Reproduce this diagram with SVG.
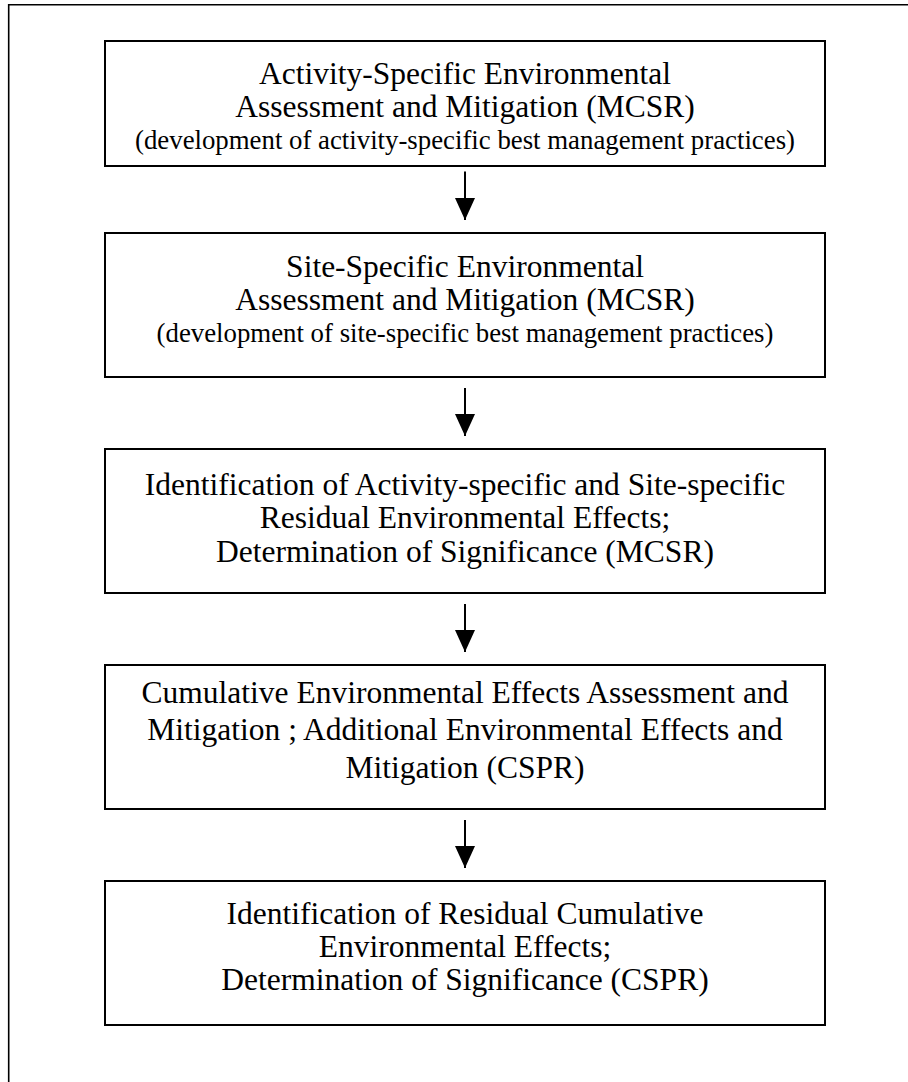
<svg xmlns="http://www.w3.org/2000/svg" width="908" height="1082" viewBox="0 0 908 1082">
<style>
.box{fill:#fff;stroke:#000;stroke-width:2}
.frame{fill:none;stroke:#000;stroke-width:1.6}
text{font-family:"Liberation Serif","Times New Roman",serif;fill:#000;text-anchor:middle}
.big{font-size:31.5px}
.small{font-size:26.8px}
.conn line{stroke:#000;stroke-width:2}
</style>
<defs>
<marker id="ah" markerUnits="userSpaceOnUse" markerWidth="22" markerHeight="20" refX="22" refY="10" orient="auto" viewBox="0 0 22 20">
<path d="M0 0 L22 10 L0 20 Z" fill="#000"/>
</marker>
</defs>
<rect x="0" y="0" width="908" height="1082" fill="#fff"/>
<path class="frame" d="M8.7 1082 V4.7 H908"/>
<g id="n1">
<rect class="box" x="105" y="41" width="720" height="125"/>
<text class="big" x="465" y="84">Activity-Specific Environmental</text>
<text class="big" x="465" y="117">Assessment and Mitigation (MCSR)</text>
<text class="small" x="465" y="149">(development of activity-specific best management practices)</text>
</g>
<g id="n2">
<rect class="box" x="105" y="233" width="720" height="144"/>
<text class="big" x="465" y="277">Site-Specific Environmental</text>
<text class="big" x="465" y="310">Assessment and Mitigation (MCSR)</text>
<text class="small" x="465" y="342">(development of site-specific best management practices)</text>
</g>
<g id="n3">
<rect class="box" x="105" y="449" width="720" height="144"/>
<text class="big" x="465" y="495">Identification of Activity-specific and Site-specific</text>
<text class="big" x="465" y="528">Residual Environmental Effects;</text>
<text class="big" x="465" y="562">Determination of Significance (MCSR)</text>
</g>
<g id="n4">
<rect class="box" x="105" y="665" width="720" height="144"/>
<text class="big" x="465" y="703">Cumulative Environmental Effects Assessment and</text>
<text class="big" x="465" y="740">Mitigation ; Additional Environmental Effects and</text>
<text class="big" x="465" y="778">Mitigation (CSPR)</text>
</g>
<g id="n5">
<rect class="box" x="105" y="881" width="720" height="144"/>
<text class="big" x="465" y="924">Identification of Residual Cumulative</text>
<text class="big" x="465" y="957">Environmental Effects;</text>
<text class="big" x="465" y="990">Determination of Significance (CSPR)</text>
</g>
<g class="conn" id="connectors">
<line x1="465" y1="171.5" x2="465" y2="220" marker-end="url(#ah)"/>
<line x1="465" y1="388" x2="465" y2="436" marker-end="url(#ah)"/>
<line x1="465" y1="604" x2="465" y2="652" marker-end="url(#ah)"/>
<line x1="465" y1="820" x2="465" y2="868" marker-end="url(#ah)"/>
</g>
</svg>
